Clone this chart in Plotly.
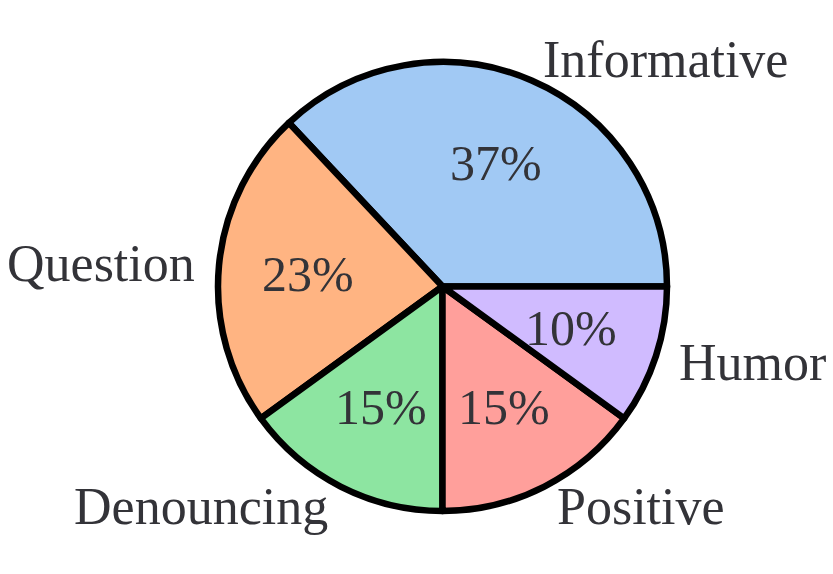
import math
import plotly.graph_objects as go

categories = ["Informative", "Question", "Denouncing", "Positive", "Humor"]
values = [37, 23, 15, 15, 10]
colors = ["#a1c9f4", "#ffb482", "#8de5a1", "#ff9f9b", "#d0bbff"]

W, H = 833, 574
cx, cy, r = 442.5, 286.5, 224.5
dom_x = [(cx - r) / W, (cx + r) / W]
dom_y = [(H - cy - r) / H, (H - cy + r) / H]

total = sum(values)
# first slice starts at 3 o'clock and runs counterclockwise
rot = 90 - 360 * values[0] / total

FAMILY = "Times New Roman, Liberation Serif, Times, serif"
TXT = "#333338"

fig = go.Figure()
fig.add_trace(go.Pie(
    labels=categories, values=values, sort=False, direction="counterclockwise",
    rotation=rot, domain=dict(x=dom_x, y=dom_y),
    marker=dict(colors=colors, line=dict(color="black", width=6.5)),
    textinfo="none", showlegend=False, hoverinfo="skip",
))

# label / percentage placement along each slice's mid-angle
annotations = []
start = 0.0
for lab, v in zip(categories, values):
    mid = math.radians(360 * (start + v / 2) / total)
    start += v
    c, s = math.cos(mid), math.sin(mid)
    annotations.append(dict(
        x=(cx + 0.6 * r * c) / W, y=1 - (cy - 0.6 * r * s) / H,
        xref="paper", yref="paper", text=f"{round(100 * v / total)}%",
        showarrow=False, xanchor="center", yanchor="middle",
        font=dict(family=FAMILY, size=50, color=TXT),
    ))
    annotations.append(dict(
        x=(cx + 1.1 * r * c) / W, y=1 - (cy - 1.1 * r * s) / H,
        xref="paper", yref="paper", text=lab, showarrow=False,
        xanchor="left" if c > 0 else "right", yanchor="middle",
        font=dict(family=FAMILY, size=52, color=TXT),
    ))

fig.update_layout(
    width=W, height=H, margin=dict(l=0, r=0, t=0, b=0),
    paper_bgcolor="white", plot_bgcolor="white",
    annotations=annotations,
)
fig.write_html(
    "out.html",
    config={"displayModeBar": False},
    post_script="document.body.style.margin='0';document.body.style.overflow='hidden';",
)
